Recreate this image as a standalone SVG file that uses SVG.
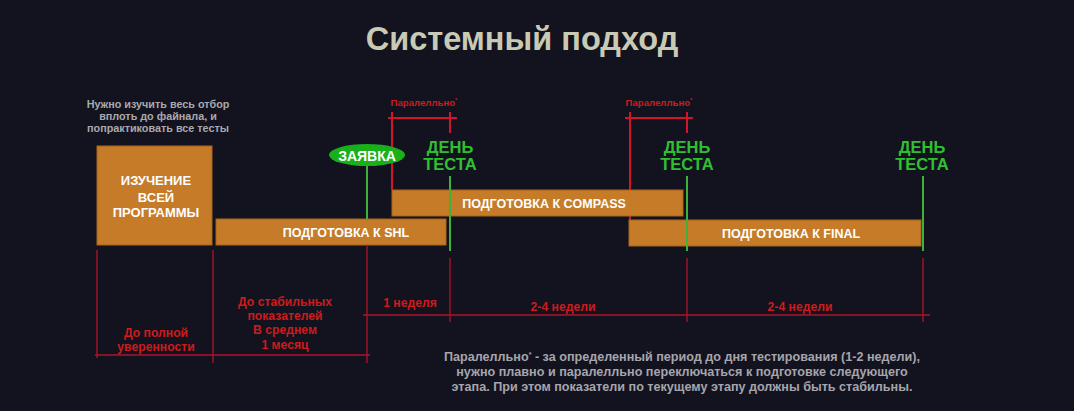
<svg xmlns="http://www.w3.org/2000/svg" width="1074" height="411" viewBox="0 0 1074 411">
<style>
text{font-family:"Liberation Sans",Arial,sans-serif;font-weight:bold;text-anchor:middle}
.bar{fill:#c57b28;stroke:#a8641c;stroke-width:1}
.bt{fill:#ffffff;font-size:12.5px}
.g{stroke:#3fb03a;stroke-width:2}
.gt{fill:#2fc030;font-size:16.5px}
.r{stroke:#b0142a;stroke-width:1.3;fill:none}
.rb{stroke:#d4142a;stroke-width:2;fill:none}
.rt{fill:#cc1c1c;font-size:12.2px}
.pt{fill:#cc1c1c;font-size:9.6px}
.gray{fill:#a9a9ad;font-size:10.8px}
.note{fill:#a5a5ab;font-size:12.6px}
</style>
<rect width="1074" height="411" fill="#13121f"/>
<text x="522" y="50" style="font-size:32.5px;fill:#c9cab4">Системный подход</text>
<g id="intro-note">
<text class="gray" x="158" y="108">Нужно изучить весь отбор</text>
<text class="gray" x="158" y="120">вплоть до файнала, и</text>
<text class="gray" x="158" y="132">попрактиковать все тесты</text>
</g>
<g id="connectors">
<path class="rb" d="M392 112V190M388 118H457M450 112V133"/>
<path class="rb" d="M630 112V220M625 118H693M687 112V133"/>
<path class="r" d="M97 250V358M213 250V363M367 246V363M450 258V322M687 258V322M923 258V322M95 355H370M363 315H930"/>
</g>
<g id="parallel-1"><text class="pt" x="424" y="106">Паралелльно<tspan dy="-4" font-size="6">*</tspan></text></g>
<g id="parallel-2"><text class="pt" x="659" y="106">Паралелльно<tspan dy="-4" font-size="6">*</tspan></text></g>
<g id="study">
<rect class="bar" x="97" y="146" width="115" height="99"/>
<text class="bt" x="156" y="185" style="font-size:13px">ИЗУЧЕНИЕ</text>
<text class="bt" x="156" y="202" style="font-size:13px">ВСЕЙ</text>
<text class="bt" x="156" y="217" style="font-size:13px">ПРОГРАММЫ</text>
</g>
<g id="shl"><rect class="bar" x="216" y="219" width="230" height="26"/><text class="bt" x="346" y="237">ПОДГОТОВКА К SHL</text></g>
<g id="compass"><rect class="bar" x="392" y="190" width="291" height="26"/><text class="bt" x="544" y="208">ПОДГОТОВКА К COMPASS</text></g>
<g id="final"><rect class="bar" x="629" y="220" width="292" height="26"/><text class="bt" x="791" y="238">ПОДГОТОВКА К FINAL</text></g>
<g id="zayavka">
<line class="g" x1="367" y1="165" x2="367" y2="219"/>
<ellipse cx="367" cy="155" rx="38" ry="11" fill="#19b01c"/>
<text x="367" y="160.500" style="fill:#fff;font-size:14px">ЗАЯВКА</text>
</g>
<g id="test-day-1"><line class="g" x1="450" y1="176" x2="450" y2="251"/><text class="gt" x="450" y="153">ДЕНЬ</text><text class="gt" x="450" y="170">ТЕСТА</text></g>
<g id="test-day-2"><line class="g" x1="687" y1="176" x2="687" y2="251"/><text class="gt" x="687" y="153">ДЕНЬ</text><text class="gt" x="687" y="170">ТЕСТА</text></g>
<g id="test-day-3"><line class="g" x1="923" y1="176" x2="923" y2="251"/><text class="gt" x="922" y="153">ДЕНЬ</text><text class="gt" x="922" y="170">ТЕСТА</text></g>
<g id="labels">
<text class="rt" x="156" y="337">До полной</text>
<text class="rt" x="156" y="351">уверенности</text>
<text class="rt" x="285" y="306">До стабильных</text>
<text class="rt" x="285" y="320">показателей</text>
<text class="rt" x="285" y="334">В среднем</text>
<text class="rt" x="285" y="349">1 месяц</text>
<text class="rt" x="410" y="307">1 неделя</text>
<text class="rt" x="563" y="311">2-4 недели</text>
<text class="rt" x="800" y="311">2-4 недели</text>
</g>
<g id="footnote">
<text class="note" x="682" y="361">Паралелльно<tspan dy="-4" font-size="7">*</tspan><tspan dy="4"> - за определенный период до дня тестирования (1-2 недели),</tspan></text>
<text class="note" x="682" y="376">нужно плавно и паралелльно переключаться к подготовке следующего</text>
<text class="note" x="682" y="391">этапа. При этом показатели по текущему этапу должны быть стабильны.</text>
</g>
</svg>
